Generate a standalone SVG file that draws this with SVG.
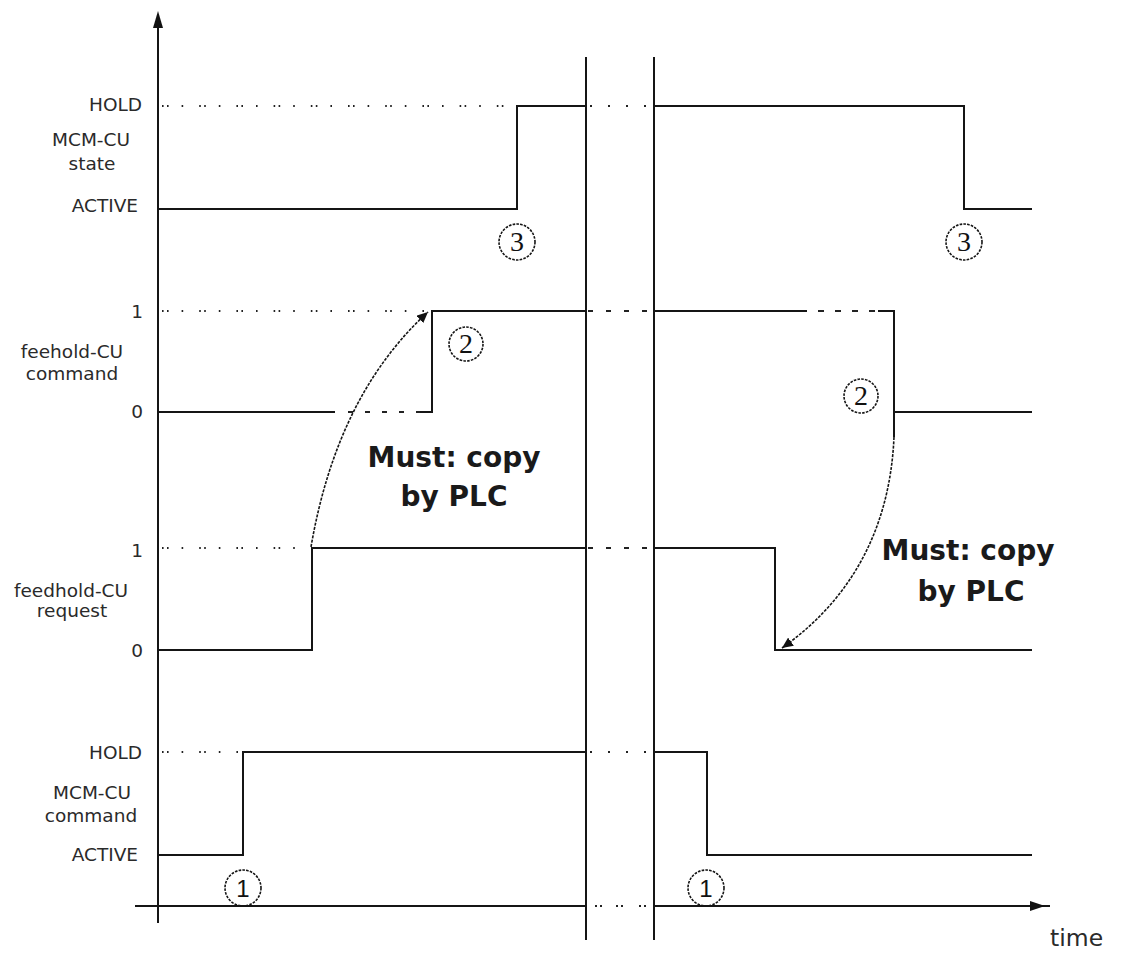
<svg xmlns="http://www.w3.org/2000/svg" width="1121" height="954" viewBox="0 0 1121 954">
<style>
.sig{fill:none;stroke:#151515;stroke-width:2;stroke-linejoin:miter}
.ax{fill:none;stroke:#151515;stroke-width:2}
.dot{fill:none;stroke:#222;stroke-width:2;stroke-dasharray:1.6 3.4 1.6 13 1.6 16}
.bdot{fill:none;stroke:#222;stroke-width:2;stroke-dasharray:2 16}
.bdash{fill:none;stroke:#222;stroke-width:2;stroke-dasharray:5 13}
.dash{fill:none;stroke:#222;stroke-width:2;stroke-dasharray:5 12}
.arc{fill:none;stroke:#151515;stroke-width:1.6;stroke-dasharray:3 1.3}
.circ{fill:none;stroke:#151515;stroke-width:1.6;stroke-dasharray:2.6 1.2}
.lbl{font-family:"DejaVu Sans",sans-serif;font-size:18.5px;fill:#2a2a2a}
.num{font-family:"Liberation Serif",serif;font-size:28px;fill:#111;text-anchor:middle}
.num1{font-family:"Liberation Sans",sans-serif;font-size:24px;fill:#111;text-anchor:middle}
.big{font-family:"DejaVu Sans",sans-serif;font-size:28px;font-weight:bold;fill:#1a1a1a;text-anchor:middle}
</style>
<defs>
<marker id="ah" markerUnits="userSpaceOnUse" markerWidth="12" markerHeight="10" refX="11" refY="5" orient="auto">
<path d="M0,0 L11,5 L0,10 z" fill="#111"/>
</marker>
</defs>
<rect width="1121" height="954" fill="#fff"/>

<g id="axes">
<path class="ax" d="M158,923 V24"/>
<polygon points="153,28 158,11 163,28" fill="#111"/>
<path class="ax" d="M135,906 H586 M654,906 H1044 L1050,906"/>
<polygon points="1030,901 1045,906 1030,911" fill="#111"/>
<path class="bdot" d="M595,906 H648" style="stroke-dasharray:2 3 2 14 2 3 2 16"/>
<path class="ax" d="M586,57 V940 M654,57 V940"/>
<text class="lbl" x="1050" y="946" style="font-size:23.5px">time</text>
</g>

<g id="mcm-cu-state">
<text class="lbl" x="142" y="111" text-anchor="end">HOLD</text>
<text class="lbl" x="91" y="146" text-anchor="middle">MCM-CU</text>
<text class="lbl" x="92" y="170" text-anchor="middle">state</text>
<text class="lbl" x="138" y="212" text-anchor="end">ACTIVE</text>
<path class="dot" d="M162,106 H515"/>
<path class="sig" d="M158,209 H517 V106 H586"/>
<path class="bdot" d="M588,106 H650" style="stroke-dashoffset:-2"/>
<path class="sig" d="M654,106 H964 V209 H1032"/>
<circle class="circ" cx="517" cy="242" r="18"/>
<text class="num" x="517" y="251">3</text>
<circle class="circ" cx="964" cy="242" r="18"/>
<text class="num" x="964" y="251">3</text>
</g>

<g id="feehold-cu-command">
<text class="lbl" x="143" y="318" text-anchor="end">1</text>
<text class="lbl" x="72" y="358" text-anchor="middle">feehold-CU</text>
<text class="lbl" x="72" y="380" text-anchor="middle">command</text>
<text class="lbl" x="143" y="418" text-anchor="end">0</text>
<path class="dot" d="M162,311 H424"/>
<path class="sig" d="M158,412 H335"/>
<path class="dash" d="M348,412 H420"/>
<path class="sig" d="M420,412 H432 V311 H586"/>
<path class="bdash" d="M588,311 H652"/>
<path class="sig" d="M654,311 H807"/>
<path class="dash" d="M818,311 H878" style="stroke-dasharray:6 11"/>
<path class="sig" d="M878,311 H894 V437 M894,412 H1032"/>
<circle class="circ" cx="466" cy="344" r="17"/>
<text class="num" x="466" y="353">2</text>
<circle class="circ" cx="861" cy="396" r="17"/>
<text class="num" x="861" y="405">2</text>
</g>

<g id="feedhold-cu-request">
<text class="lbl" x="143" y="557" text-anchor="end">1</text>
<text class="lbl" x="71" y="597" text-anchor="middle">feedhold-CU</text>
<text class="lbl" x="72" y="617" text-anchor="middle">request</text>
<text class="lbl" x="143" y="657" text-anchor="end">0</text>
<path class="dot" d="M162,548 H308"/>
<path class="sig" d="M158,650 H312 V548 H586"/>
<path class="bdash" d="M588,548 H652"/>
<path class="sig" d="M654,548 H775 V650 H1032"/>
</g>

<g id="mcm-cu-command">
<text class="lbl" x="142" y="759" text-anchor="end">HOLD</text>
<text class="lbl" x="92" y="799" text-anchor="middle">MCM-CU</text>
<text class="lbl" x="91" y="822" text-anchor="middle">command</text>
<text class="lbl" x="138" y="861" text-anchor="end">ACTIVE</text>
<path class="dot" d="M162,752 H241"/>
<path class="sig" d="M158,855 H243 V752 H586"/>
<path class="bdot" d="M588,752 H650" style="stroke-dashoffset:-2"/>
<path class="sig" d="M654,752 H707 V855 H1032"/>
<circle class="circ" cx="243" cy="888" r="18"/>
<text class="num1" x="243" y="897">1</text>
<circle class="circ" cx="706" cy="888" r="18"/>
<text class="num1" x="706" y="897">1</text>
</g>

<g id="connectors">
<path class="arc" d="M311,547 Q337,395 428,312" marker-end="url(#ah)"/>
<path class="arc" d="M894,437 C890,530 850,600 782,648" marker-end="url(#ah)"/>
</g>

<g id="annotation-left">
<text class="big" x="454" y="467">Must: copy</text>
<text class="big" x="454" y="506">by PLC</text>
</g>
<g id="annotation-right">
<text class="big" x="968" y="560">Must: copy</text>
<text class="big" x="971" y="601">by PLC</text>
</g>
</svg>
